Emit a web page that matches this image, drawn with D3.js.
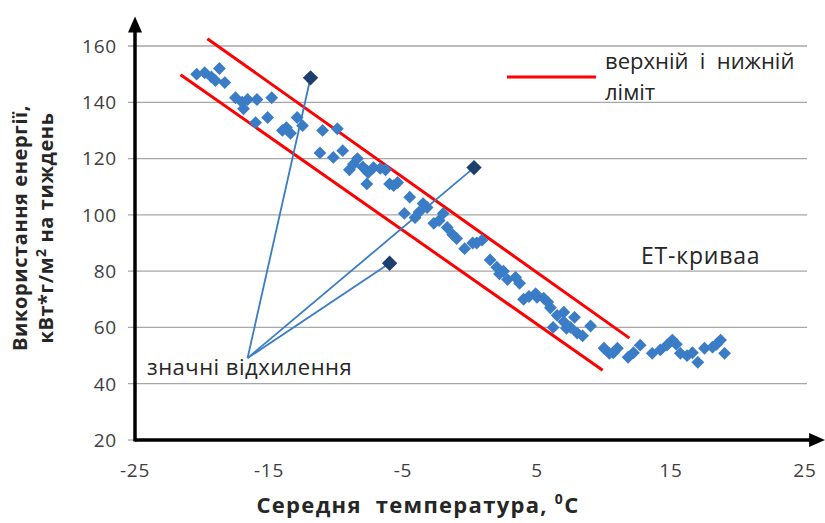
<!DOCTYPE html>
<html>
<head>
<meta charset="utf-8">
<script src="https://cdn.jsdelivr.net/npm/d3@7"></script>
<style>
  body { margin: 0; background: #fff; }
  text { font-family: "Open Sans", "Noto Sans", sans-serif; }
</style>
</head>
<body>
<div id="maincontent"></div>
<script>
// average weekly temperature, degC
var temps = [-20.4, -19.8, -19.3, -19.0, -18.7, -18.3, -17.5, -17.0, -16.9, -16.6,
             -16.0, -15.9, -15.1, -14.8, -14.0, -13.7, -13.4, -12.9, -12.5, -11.0,
             -9.9, -11.2, -10.2, -9.5, -9.0, -8.7, -8.4, -8.0, -7.7, -7.6,
             -7.2, -6.7, -6.3, -7.7, -6.0, -5.7, -5.4, -4.5, -3.8, -3.5,
             -4.9, -4.1, -3.2, -2.7, -2.3, -2.0, -1.7, -1.3, -1.0, -0.4,
             0.2, 0.5, 0.9, 1.5, 2.0, 2.2, 2.5, 2.8, 3.4, 3.7,
             4.0, 4.4, 4.9, 5.0, 5.5, 5.8, 6.0, 6.5, 7.0, 6.2,
             7.0, 7.2, 7.5, 7.8, 8.0, 8.4, 9.0, 10.0, 10.4, 10.7,
             11.0, 11.8, 12.2, 12.7, 13.6, 14.2, 14.7, 15.1, 15.4, 15.7,
             16.2, 16.6, 17.0, 17.5, 18.1, 18.4, 18.7, 19.0];
// energy use, kWh/m2 per week
var energy = [150, 150.5, 149, 147.7, 152, 147, 141.6, 140, 137.7, 141,
              132.8, 141, 134.6, 141.6, 130, 131, 129, 134.6, 131.7, 130,
              130.6, 122, 120.4, 122.8, 116, 118, 120, 117, 115.7, 115,
              116.8, 116.5, 116, 111, 111, 110.4, 111.5, 106.3, 101, 104,
              100.5, 99, 102.6, 97, 98, 100.5, 95.5, 93, 91.6, 88,
              90, 90, 91, 84, 81.4, 79, 80, 77, 77.8, 75.7,
              70, 71, 72, 70.7, 70.4, 69, 67, 64.3, 65.4, 60,
              62, 59.7, 60, 63.6, 58, 57, 60.5, 52.6, 50.8, 51,
              52.6, 49.4, 51, 53.7, 50.8, 52, 53.7, 55.5, 54, 50.8,
              50, 51, 47.6, 52.6, 53, 54, 55.5, 50.8];

// significant deviations
var outlierT = [-11.9, 0.3, -6.0];
var outlierE = [148.7, 116.8, 82.8];
var calloutT = -16.6, calloutE = 49.1;

// upper and lower limit lines
var upperT = [-19.6, 11.9], upperE = [162.6, 56.2];
var lowerT = [-21.6, 9.9],  lowerE = [149.8, 44.8];

var xTicks = [-25, -15, -5, 5, 15, 25];
var yTicks = [20, 40, 60, 80, 100, 120, 140, 160];

var width = 825, height = 523;
var margin = {top: 46, right: 20, bottom: 83, left: 135};

var svg = d3.select("#maincontent").append("svg")
    .attr("width", width)
    .attr("height", height);

var x = d3.scaleLinear().domain([-25, 25]).range([margin.left, 805]);
var y = d3.scaleLinear().domain([20, 160]).range([height - margin.bottom, margin.top]);

// grid lines (with small tick stub left of axis)
svg.append("g")
    .selectAll("line")
    .data(yTicks.slice(1))
    .enter().append("line")
    .attr("x1", x(-25) - 7)
    .attr("x2", x(25) + 2)
    .attr("y1", function (d) { return y(d) })
    .attr("y2", function (d) { return y(d) })
    .attr("stroke", "#a6a6a6")
    .attr("stroke-width", 1.3);

svg.append("line")
    .attr("x1", x(-25) - 7).attr("x2", x(-25))
    .attr("y1", y(20)).attr("y2", y(20))
    .attr("stroke", "#a6a6a6").attr("stroke-width", 1.3);

// tick labels
svg.append("g")
    .selectAll("text")
    .data(yTicks)
    .enter().append("text")
    .attr("x", x(-25) - 18)
    .attr("y", function (d) { return y(d) })
    .attr("dy", "0.36em")
    .attr("text-anchor", "end")
    .attr("font-size", 19)
    .attr("letter-spacing", 0.8)
    .attr("fill", "#404040")
    .text(function (d) { return d });

svg.append("g")
    .selectAll("text")
    .data(xTicks)
    .enter().append("text")
    .attr("x", function (d) { return x(d) })
    .attr("y", y(20) + 37)
    .attr("text-anchor", "middle")
    .attr("font-size", 19)
    .attr("letter-spacing", 0.8)
    .attr("fill", "#404040")
    .text(function (d) { return d });

// limit lines
var line = d3.line()
    .x(function (d) { return x(d[0]) })
    .y(function (d) { return y(d[1]) });

[[upperT, upperE], [lowerT, lowerE]].forEach(function (l) {
    svg.append("path")
        .datum(d3.zip(l[0], l[1]))
        .attr("d", line)
        .attr("fill", "none")
        .attr("stroke", "#ff0000")
        .attr("stroke-width", 3);
});

// data points
var diamond = d3.symbol().type(d3.symbolDiamond2).size(105);
svg.append("g")
    .selectAll("path")
    .data(d3.zip(temps, energy))
    .enter().append("path")
    .attr("d", diamond)
    .attr("transform", function (d) { return "translate(" + x(d[0]) + "," + y(d[1]) + ")" })
    .attr("fill", "#3a7dc6");

// callout lines to deviations
svg.append("g")
    .selectAll("line")
    .data(d3.zip(outlierT, outlierE))
    .enter().append("line")
    .attr("x1", x(calloutT))
    .attr("y1", y(calloutE))
    .attr("x2", function (d) { return x(d[0]) })
    .attr("y2", function (d) { return y(d[1]) })
    .attr("stroke", "#3a7dc6")
    .attr("stroke-width", 1.8);

svg.append("g")
    .selectAll("path")
    .data(d3.zip(outlierT, outlierE))
    .enter().append("path")
    .attr("d", d3.symbol().type(d3.symbolDiamond2).size(150))
    .attr("transform", function (d) { return "translate(" + x(d[0]) + "," + y(d[1]) + ")" })
    .attr("fill", "#1c3f6e");

svg.append("text")
    .attr("x", x(-24.1))
    .attr("y", y(43))
    .attr("font-size", 22)
    .attr("letter-spacing", 0.5)
    .attr("fill", "#262626")
    .text("значні відхилення");

// axes with arrows
var xEnd = 26.5, yEnd = 170.5;
svg.append("line")
    .attr("x1", x(-25)).attr("x2", x(xEnd) - 12)
    .attr("y1", y(20)).attr("y2", y(20))
    .attr("stroke", "#000").attr("stroke-width", 3.5);
svg.append("line")
    .attr("x1", x(-25)).attr("x2", x(-25))
    .attr("y1", y(20) + 1.5).attr("y2", y(yEnd) + 14)
    .attr("stroke", "#000").attr("stroke-width", 3.5);
svg.append("path")
    .attr("d", "M" + x(xEnd) + "," + y(20) + "l-16,-7l0,14z")
    .attr("fill", "#000");
svg.append("path")
    .attr("d", "M" + x(-25) + "," + y(yEnd) + "l-7,16l14,0z")
    .attr("fill", "#000");

// legend
svg.append("line")
    .attr("x1", 507).attr("x2", 596)
    .attr("y1", 77).attr("y2", 77)
    .attr("stroke", "#ff0000").attr("stroke-width", 3);
svg.append("text")
    .attr("x", 605).attr("y", 69)
    .attr("font-size", 22)
    .attr("fill", "#262626")
    .attr("xml:space", "preserve")
    .text("верхній  і  нижній");
svg.append("text")
    .attr("x", 605).attr("y", 100)
    .attr("font-size", 22)
    .attr("fill", "#262626")
    .text("ліміт");

svg.append("text")
    .attr("x", 641).attr("y", 264)
    .attr("font-size", 23)
    .attr("letter-spacing", 0.8)
    .attr("fill", "#262626")
    .text("ЕТ-криваа");

// axis titles
svg.append("text")
    .attr("transform", "translate(418,513)")
    .attr("text-anchor", "middle")
    .attr("font-size", 22)
    .attr("font-weight", "bold")
    .attr("letter-spacing", 1.3)
    .attr("fill", "#262626")
    .attr("xml:space", "preserve")
    .html('Середня  температура, <tspan dy="-9" font-size="14">0</tspan><tspan dy="9">С</tspan>');

var ytitle = svg.append("text")
    .attr("transform", "translate(30,228)rotate(-90)")
    .attr("text-anchor", "middle")
    .attr("font-size", 20)
    .attr("font-weight", "bold")
    .attr("letter-spacing", 0.6)
    .attr("fill", "#262626");
ytitle.append("tspan").attr("x", 0).attr("dy", "-0.15em").text("Використання енергії,");
ytitle.append("tspan").attr("x", 0).attr("dy", "1.3em")
    .html('кВт*г/м<tspan dy="-7" font-size="14">2</tspan><tspan dy="7"> на тиждень</tspan>');
</script>
</body>
</html>
